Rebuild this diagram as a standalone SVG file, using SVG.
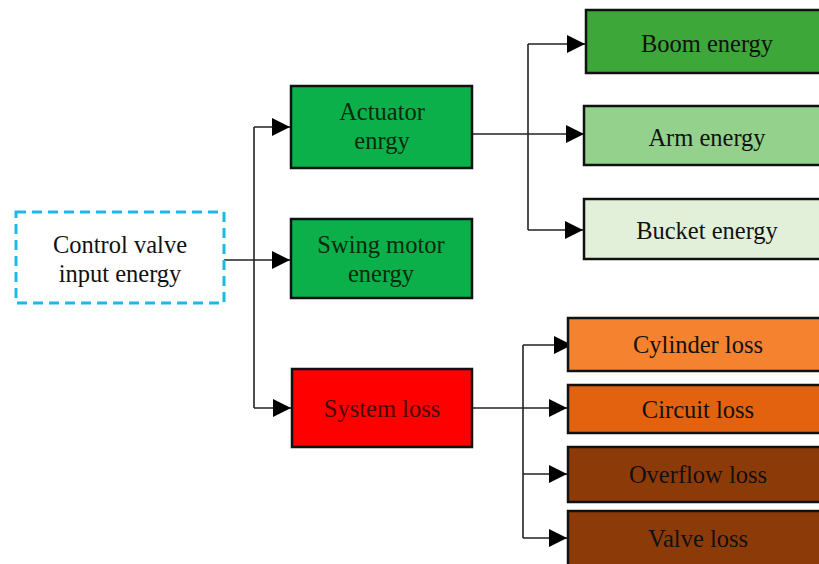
<svg xmlns="http://www.w3.org/2000/svg" width="819" height="564" viewBox="0 0 819 564">
<style>
.box{stroke:#111;stroke-width:2.5}
.t{font-family:"Liberation Serif","Times New Roman",serif;font-size:24.5px;fill:#111;text-anchor:middle}
.ln{fill:none;stroke:#222;stroke-width:1.6}
</style>
<defs>
<marker id="ah" viewBox="0 0 10 10" refX="10" refY="5" markerWidth="18" markerHeight="18" markerUnits="userSpaceOnUse" orient="auto">
<path d="M0,0 L10,5 L0,10 Z" fill="#000"/>
</marker>
</defs>
<rect width="819" height="564" fill="#fff"/>
<g id="connectors">
<path class="ln" d="M224,260 H290" marker-end="url(#ah)"/>
<path class="ln" d="M254,127 V408"/>
<path class="ln" d="M254,127 H290" marker-end="url(#ah)"/>
<path class="ln" d="M254,408 H291" marker-end="url(#ah)"/>
<path class="ln" d="M472,134 H584" marker-end="url(#ah)"/>
<path class="ln" d="M528,44 V230"/>
<path class="ln" d="M528,44 H585" marker-end="url(#ah)"/>
<path class="ln" d="M528,230 H583" marker-end="url(#ah)"/>
<path class="ln" d="M472,408 H567" marker-end="url(#ah)"/>
<path class="ln" d="M523,345 V538"/>
<path class="ln" d="M523,345 H572" marker-end="url(#ah)"/>
<path class="ln" d="M523,474 H567" marker-end="url(#ah)"/>
<path class="ln" d="M523,538 H567" marker-end="url(#ah)"/>
</g>
<g id="control">
<rect x="16" y="212" width="208" height="91" fill="#fff" stroke="#1cb8ec" stroke-width="3" stroke-dasharray="10,6"/>
<text class="t" x="120" y="253">Control valve</text>
<text class="t" x="120" y="282">input energy</text>
</g>
<g id="actuator">
<rect class="box" x="291" y="86" width="181" height="82" fill="#0bb04a"/>
<text class="t" x="382" y="120" style="fill:#0a2a10">Actuator</text>
<text class="t" x="382" y="149" style="fill:#0a2a10">enrgy</text>
</g>
<g id="swing">
<rect class="box" x="291" y="219" width="181" height="79" fill="#0bb04a"/>
<text class="t" x="381" y="253" style="fill:#0a2a10">Swing motor</text>
<text class="t" x="381" y="282" style="fill:#0a2a10">energy</text>
</g>
<g id="system">
<rect class="box" x="292" y="369" width="180" height="78" fill="#ff0000"/>
<text class="t" x="382" y="417" style="fill:#4a0a0a">System loss</text>
</g>
<g id="boom">
<rect class="box" x="586" y="10" width="240" height="63" fill="#3da73a"/>
<text class="t" x="707" y="52">Boom energy</text>
</g>
<g id="arm">
<rect class="box" x="584" y="106" width="242" height="59" fill="#93d18c"/>
<text class="t" x="707" y="146">Arm energy</text>
</g>
<g id="bucket">
<rect class="box" x="584" y="199" width="242" height="60" fill="#e2f0da"/>
<text class="t" x="707" y="239">Bucket energy</text>
</g>
<g id="cylinder">
<rect class="box" x="568" y="318" width="258" height="53" fill="#f5822f"/>
<text class="t" x="698" y="353">Cylinder loss</text>
</g>
<g id="circuit">
<rect class="box" x="568" y="385" width="258" height="48" fill="#e2620f"/>
<text class="t" x="698" y="418">Circuit loss</text>
</g>
<g id="overflow">
<rect class="box" x="568" y="447" width="258" height="55" fill="#8d3a09"/>
<text class="t" x="698" y="483">Overflow loss</text>
</g>
<g id="valve">
<rect class="box" x="568" y="511" width="258" height="60" fill="#8d3a09"/>
<text class="t" x="698" y="547">Valve  loss</text>
</g>
</svg>
